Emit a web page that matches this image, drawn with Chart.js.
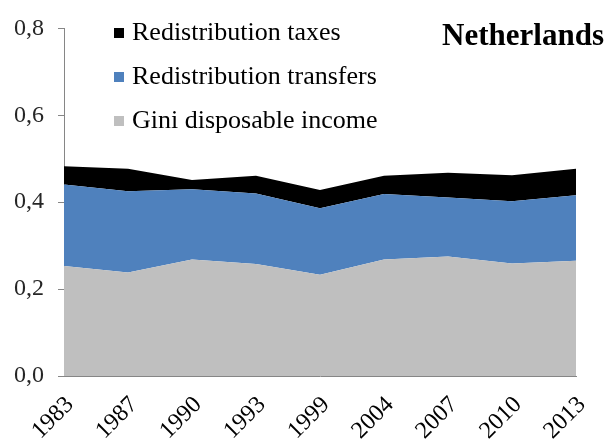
<!DOCTYPE html>
<html>
<head>
<meta charset="utf-8">
<script src="https://cdn.jsdelivr.net/npm/chart.js@4"></script>
<style>
  html, body { margin: 0; padding: 0; background: #fff; }
  #wrap { width: 612px; height: 442px; }
</style>
</head>
<body>
<div id="wrap"><canvas id="chart" width="612" height="442"></canvas></div>
<script>
const years = ["1983", "1987", "1990", "1993", "1999", "2004", "2007", "2010", "2013"];
const giniDisposable = [0.253, 0.238, 0.268, 0.258, 0.233, 0.268, 0.275, 0.259, 0.265];
const redistTransfers = [0.188, 0.187, 0.162, 0.162, 0.153, 0.151, 0.136, 0.143, 0.151];
const redistTaxes = [0.042, 0.052, 0.021, 0.041, 0.042, 0.042, 0.057, 0.060, 0.061];
const yTicks = [0, 0.2, 0.4, 0.6, 0.8];
const chartTitle = "Netherlands";

const serif = "'Liberation Serif', 'DejaVu Serif', serif";

// legend + title drawn inside the plot area, like the original
const overlay = {
  id: "overlay",
  afterDraw(chart) {
    const ctx = chart.ctx;
    ctx.save();
    ctx.textBaseline = "middle";
    ctx.font = "26px " + serif;
    const items = chart.data.datasets.slice().reverse();
    items.forEach((ds, i) => {
      const y = 33 + i * 44;
      ctx.fillStyle = ds.backgroundColor;
      ctx.fillRect(114, y - 5, 10, 10);
      ctx.fillStyle = "#000";
      ctx.textAlign = "left";
      ctx.fillText(ds.label, 132, y);
    });
    ctx.font = "bold 31px " + serif;
    ctx.textAlign = "right";
    ctx.fillText(chartTitle, 604, 37);
    ctx.restore();
  }
};

new Chart(document.getElementById("chart"), {
  type: "line",
  data: {
    labels: years,
    datasets: [
      { label: "Gini disposable income", data: giniDisposable, backgroundColor: "#BFBFBF", fill: "origin" },
      { label: "Redistribution transfers", data: redistTransfers, backgroundColor: "#4F81BD", fill: "-1" },
      { label: "Redistribution taxes", data: redistTaxes, backgroundColor: "#000000", fill: "-1" }
    ]
  },
  options: {
    responsive: false,
    animation: false,
    elements: {
      point: { radius: 0 },
      line: { borderWidth: 0, tension: 0 }
    },
    layout: { padding: { left: 0, right: 36, top: 24, bottom: 0 } },
    plugins: {
      legend: { display: false },
      tooltip: { enabled: false }
    },
    scales: {
      x: {
        offset: false,
        grid: { display: false, drawTicks: false },
        border: { display: true, color: "#868686", width: 1 },
        ticks: {
          minRotation: 45, maxRotation: 45,
          padding: 15,
          labelOffset: 6,
          color: "#000",
          font: { family: serif, size: 24 }
        },
        afterFit: (s) => { s.height = 66; }
      },
      y: {
        stacked: true,
        min: 0, max: 0.8,
        afterBuildTicks: (s) => { s.ticks = yTicks.map(v => ({ value: v })); },
        grid: { drawOnChartArea: false, drawTicks: true, tickLength: 6, color: "#868686" },
        border: { display: true, color: "#868686", width: 1 },
        ticks: {
          padding: 14,
          color: "#262626",
          font: { family: serif, size: 24 },
          callback: (v) => v.toFixed(1).replace(".", ",")
        },
        afterFit: (s) => { s.width = 64; }
      }
    }
  },
  plugins: [overlay]
});
</script>
</body>
</html>
